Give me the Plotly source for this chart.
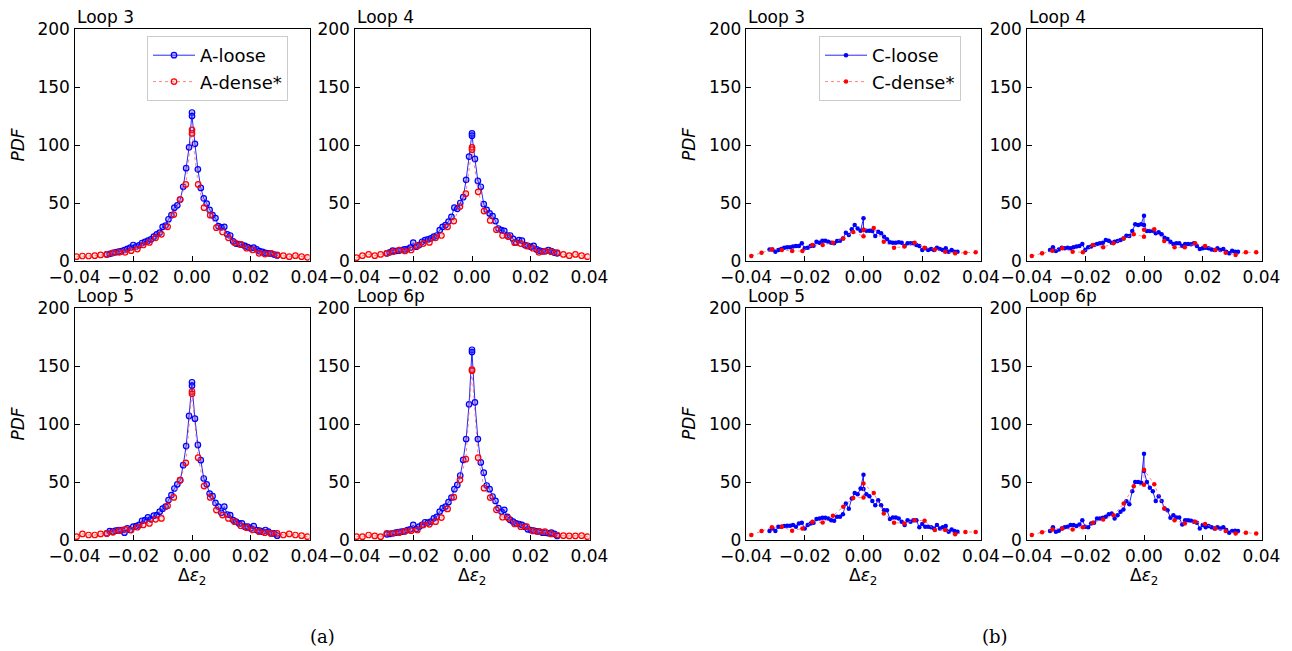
import plotly.graph_objects as go

# ---------------- data ----------------
XA_LOOSE = [-0.029, -0.028, -0.027, -0.026, -0.025, -0.024, -0.023, -0.022, -0.021, -0.020,
            -0.019, -0.018, -0.017, -0.016, -0.015, -0.014, -0.013, -0.012, -0.011, -0.010,
            -0.009, -0.008, -0.007, -0.006, -0.005, -0.004, -0.003, -0.002, -0.001, 0.0,
            0.0, 0.001, 0.002, 0.003, 0.004, 0.005, 0.006, 0.007, 0.008, 0.009,
            0.010, 0.011, 0.012, 0.013, 0.014, 0.015, 0.016, 0.017, 0.018, 0.019,
            0.020, 0.021, 0.022, 0.023, 0.024, 0.025, 0.026, 0.027, 0.028, 0.029]
XA_DENSE = [-0.0393, -0.0373, -0.0352, -0.0331, -0.0311, -0.0290, -0.0269, -0.0248, -0.0228, -0.0207,
            -0.0186, -0.0166, -0.0145, -0.0124, -0.0104, -0.0083, -0.0062, -0.0041, -0.0021, 0.0,
            0.0, 0.0021, 0.0041, 0.0062, 0.0083, 0.0104, 0.0124, 0.0145, 0.0166, 0.0186,
            0.0207, 0.0228, 0.0248, 0.0269, 0.0290, 0.0311, 0.0331, 0.0352, 0.0373, 0.0393]
XC_LOOSE = [-0.032, -0.031, -0.030, -0.029, -0.028, -0.027, -0.026, -0.025, -0.024, -0.023,
            -0.022, -0.021, -0.020, -0.019, -0.018, -0.017, -0.016, -0.015, -0.014, -0.013,
            -0.012, -0.011, -0.010, -0.009, -0.008, -0.007, -0.006, -0.005, -0.004, -0.003,
            -0.002, -0.001, 0.0, 0.0, 0.001, 0.002, 0.003, 0.004, 0.005, 0.006,
            0.007, 0.008, 0.009, 0.010, 0.011, 0.012, 0.013, 0.014, 0.015, 0.016,
            0.017, 0.018, 0.019, 0.020, 0.021, 0.022, 0.023, 0.024, 0.025, 0.026,
            0.027, 0.028, 0.029, 0.030, 0.031, 0.032]
XC_DENSE = [-0.0382, -0.0347, -0.0312, -0.0278, -0.0243, -0.0208, -0.0174, -0.0139, -0.0104, -0.0069,
            -0.0035, 0.0, 0.0, 0.0035, 0.0069, 0.0104, 0.0139, 0.0174, 0.0208, 0.0243,
            0.0278, 0.0312, 0.0347, 0.0382]

A3_LOOSE = [5.7, 6.2, 6.8, 7.4, 8, 8.6, 9.5, 10.5, 11.5, 13.8, 12.5, 13.5, 15.5, 16.5, 17.5, 18.6, 21, 23, 24.5,
            29.5, 30.5, 36, 39.5, 46, 48, 53, 64, 80, 98,
            128, 125,
            101, 79, 63, 54, 49.5, 44, 39.5, 37, 30, 29, 29.5, 23, 22, 17, 15, 14.6, 14, 13, 12, 11, 11.5,
            10, 8.5, 7.8, 7, 6.6, 6.3, 5.5, 4.8]
A3_DENSE = [3.7, 4.3, 4.3, 4.6, 5.2, 5.7, 7, 7.4, 7.4, 8.9, 10.3, 13.8, 16, 20, 23, 29.5, 40, 53, 66,
            113, 110,
            66, 46, 39.5, 28.7, 25, 20, 15.8, 14.3, 11, 9.5, 6.6, 6, 6.6, 5.2, 4.6, 3.7, 4.6, 3.7, 3.2]
A4_LOOSE = [6.6, 7.4, 8.9, 8.6, 8.9, 9.5, 10, 10.3, 11.5, 15.8, 12.3, 13.8, 16.6, 18, 18.6, 19.5, 21, 22,
            26.6, 29.5, 31, 34, 38, 46, 45, 50, 55, 70, 90,
            110, 108,
            88, 69, 64, 49, 44, 41, 38.7, 34.4, 28, 26.6, 26, 22, 22, 19, 16, 18, 17.5, 13.8, 13, 12.3, 13,
            10, 8.9, 8.3, 8.6, 9.5, 8.6, 7.2, 6.6]
A4_DENSE = [2.9, 4.6, 5.7, 4.6, 5.7, 6.6, 8, 9.5, 8.6, 9.5, 13, 15, 16, 20, 22, 29.5, 34.4, 47, 58,
            98, 96,
            59.6, 43, 35, 27, 22, 21, 15.8, 15, 13, 11, 7.4, 8.3, 8, 7.2, 5.7, 4.6, 5.7, 4.6, 3.7]
A5_LOOSE = [5.7, 7.7, 7.2, 8, 8.6, 8.6, 6.3, 10, 8.6, 11.5, 12, 13, 16.6, 17.2, 19.5, 17.8, 21, 21.5, 24.4,
            27, 28.7, 34.4, 38.7, 44.4, 48, 51.6, 64.5, 81, 107,
            136, 133,
            104.6, 82, 68.8, 53, 48, 40, 37.8, 32, 28.7, 23.5, 28.7, 22, 21.5, 17.2, 15.8, 14.3, 14.3, 11.5,
            11.5, 10, 12, 8.6, 8, 7.2, 8.6, 7.2, 5.7, 5.7, 3.7]
A5_DENSE = [2.9, 5.2, 4.3, 4.3, 5.2, 5.7, 6.6, 8, 9.2, 8.6, 11, 13, 14.3, 17.8, 18.6, 29.5, 36.7, 51.6, 66.5,
            128, 126,
            71, 46.5, 36.7, 25.8, 21.5, 18.6, 15.8, 12.3, 10.6, 8.6, 7.2, 6.3, 5.7, 5.7, 4.3, 5.2, 4.3, 3.7, 2.9]
A6_LOOSE = [4.9, 5.2, 5.8, 6.3, 6.9, 7.2, 7.5, 8.6, 9.2, 13, 9.5, 11.5, 13, 15.3, 15, 15.8, 18.7, 20, 24.5,
            27.4, 28.8, 32.6, 36.6, 43.8, 47.5, 55.6, 69, 87, 117,
            164, 162,
            118.7, 87, 66.9, 58, 47, 43.8, 37.5, 33.7, 27.4, 24.5, 26, 20, 17.3, 15.8, 14.4, 13.8, 13, 11.5,
            9.2, 8.6, 8, 7.5, 7.2, 6.3, 6.3, 5.8, 6.3, 5.2, 3.5]
A6_DENSE = [2.9, 2.9, 4.3, 3.5, 2.9, 5.8, 5.8, 6.3, 7.5, 8, 8.6, 13, 13.5, 15.8, 19.3, 26.8, 36.9, 51.9, 69.7,
            147, 146,
            71, 44.7, 36.6, 26, 19.6, 18.7, 13.8, 11.5, 11.5, 7.8, 7.2, 7.2, 5.2, 4.3, 3.7, 3.5, 3.5, 3.7, 2.9]

C3_LOOSE = [10, 10, 8, 9.5, 10.3, 11.5, 11.8, 11.8, 12.4, 13, 13, 15.2, 11, 11.5, 13, 13.2, 16.7, 15.8,
            17.5, 17.5, 16.7, 15.8, 15.2, 17.2, 17.5, 19.5, 24.4, 22.4, 27.3, 31, 28, 26,
            36.8, 27,
            26, 26, 25.9, 21.5, 25.3, 23.9, 21, 18.7, 16.1, 15.8, 15.8, 16.1, 15.8, 13, 15.2, 15.2,
            15.2, 13.8, 13, 9.5, 11, 9.5, 10.3, 9.5, 11.5, 10.3, 9.5, 11, 8, 9.5, 8, 8]
C3_DENSE = [4.3, 7.2, 10, 9.5, 8.6, 8.6, 13.8, 13.8, 15.8, 19.5, 25,
            21.3, 27,
            28.4, 16.7, 11.5, 12.4, 15.8, 11.5, 10, 8, 6.6, 7.2, 7.5]
C4_LOOSE = [9.5, 11.8, 8.6, 10, 11.5, 11, 11.5, 11, 11.8, 12.4, 13, 14.7, 9.5, 11.8, 12.4, 13.8, 14.7,
            15.2, 15.8, 18.1, 17.5, 15.8, 16.7, 17.2, 18.1, 19.5, 21.8, 21.5, 25.9, 31.6, 31, 31.6,
            39, 31,
            25.9, 25.9, 26.1, 23.9, 24.7, 23, 20.1, 19, 16.7, 14.7, 15.2, 15.2, 13, 14.7, 14.7, 14.4,
            15.2, 13, 10.3, 11, 11.5, 11, 10, 9.5, 11, 9.5, 10.3, 8, 6.6, 8.9, 8, 8]
C4_DENSE = [4.3, 6.6, 8.9, 11, 8, 7.5, 13.8, 11.8, 15.2, 19.5, 23,
            21, 27,
            27.3, 17.2, 11.8, 11.8, 15.2, 13, 9.5, 7.2, 5.2, 7.5, 7.5]
C5_LOOSE = [7.7, 10, 7.7, 11.4, 11.4, 12, 12.3, 12.3, 12.9, 11.4, 14.3, 14.9, 10, 12.9, 14.3, 14.9, 18,
            18.6, 19.1, 19.1, 18.6, 17.1, 16.6, 20, 20, 22.3, 31.4, 27, 35.7, 40.6, 39.4, 44.3,
            56.3, 44,
            39.4, 37.7, 33.7, 30, 34.3, 30, 25.7, 25.7, 18, 19.4, 19.4, 18.6, 15.7, 12.9, 17.1, 15.7,
            17.1, 17.1, 10.9, 13.7, 11.4, 11.4, 10.9, 10, 12.9, 10, 10.9, 12, 7.1, 9.1, 7.7, 7.1]
C5_DENSE = [4.3, 7.7, 10.9, 11.4, 8, 10, 15.7, 15.1, 20.9, 28.6, 36.3,
            36.6, 48.6,
            40.6, 22.9, 14.9, 14.3, 17.1, 16.6, 8.6, 8.6, 4.9, 6.9, 6.9]
C6_LOOSE = [7.7, 10.9, 7.1, 8, 10, 10.9, 11.4, 12.9, 12.9, 12, 13.4, 17.1, 11.4, 10.9, 14.3, 14.9, 18.6,
            18.6, 19.1, 20, 22.3, 22.9, 18.6, 21.4, 24.3, 26.3, 33.4, 30.9, 42, 50, 50, 49.4,
            74.3, 59.4,
            50, 45.1, 42, 33.7, 37.7, 33.7, 27.1, 25.7, 19.1, 21.4, 19.4, 19.4, 13.4, 17.1, 17.1, 16.6,
            15.7, 14.9, 10, 12.9, 10.9, 12, 10.9, 10, 10.9, 10, 10.9, 8.6, 6.3, 7.7, 8, 7.7]
C6_DENSE = [4.3, 6.6, 9.1, 10, 9.1, 10.9, 14.9, 17.7, 21.4, 31.4, 46.3,
            47.7, 60.6,
            48, 27.1, 17.1, 14.3, 15.7, 13.7, 10, 7.7, 5.7, 6.3, 5.7]

PANEL_TITLES = ["Loop 3", "Loop 4", "Loop 5", "Loop 6p"]
X_TICKS = [-0.04, -0.02, 0.0, 0.02, 0.04]
Y_TICKS = [0, 50, 100, 150, 200]

# ---------------- layout geometry (pixels) ----------------
W, H = 1292, 651
FONT = "DejaVu Sans"
FS = 17


def px_x(p):
    return p / W


def px_y(p):
    return (H - p) / H


col_px = [(74.5, 309.5), (354.5, 589.5), (746, 981), (1026.5, 1261.5)]
row_px = [(29, 261), (308, 540)]

panels = [
    ("A", 0, 0, PANEL_TITLES[0], XA_LOOSE, A3_LOOSE, XA_DENSE, A3_DENSE),
    ("A", 1, 0, PANEL_TITLES[1], XA_LOOSE, A4_LOOSE, XA_DENSE, A4_DENSE),
    ("A", 0, 1, PANEL_TITLES[2], XA_LOOSE, A5_LOOSE, XA_DENSE, A5_DENSE),
    ("A", 1, 1, PANEL_TITLES[3], XA_LOOSE, A6_LOOSE, XA_DENSE, A6_DENSE),
    ("C", 2, 0, PANEL_TITLES[0], XC_LOOSE, C3_LOOSE, XC_DENSE, C3_DENSE),
    ("C", 3, 0, PANEL_TITLES[1], XC_LOOSE, C4_LOOSE, XC_DENSE, C4_DENSE),
    ("C", 2, 1, PANEL_TITLES[2], XC_LOOSE, C5_LOOSE, XC_DENSE, C5_DENSE),
    ("C", 3, 1, PANEL_TITLES[3], XC_LOOSE, C6_LOOSE, XC_DENSE, C6_DENSE),
]

fig = go.Figure()
annotations = []
layout_axes = {}

for i, (grp, c, r, title, xl, yl, xd, yd) in enumerate(panels, start=1):
    xs = "x" if i == 1 else f"x{i}"
    ys = "y" if i == 1 else f"y{i}"
    first = (i == 1 or i == 5)
    legend_name = "legend" if grp == "A" else "legend2"
    if grp == "A":
        loose_marker = dict(symbol="circle", size=5.5, color="rgba(80,80,255,0.35)",
                            line=dict(color="#0000ff", width=1.2))
        dense_marker = dict(symbol="circle", size=5.5, color="rgba(255,120,120,0.2)",
                            line=dict(color="#ff0000", width=1.2))
    else:
        loose_marker = dict(symbol="circle", size=4.5, color="#0000ff", line=dict(width=0))
        dense_marker = dict(symbol="circle", size=4.5, color="#ff0000", line=dict(width=0))

    fig.add_trace(go.Scatter(
        x=xl, y=yl, mode="lines+markers", name=f"{grp}-loose",
        line=dict(color="rgba(0,0,255,0.85)", width=1),
        marker=loose_marker, xaxis=xs, yaxis=ys,
        showlegend=first, legend=legend_name))
    fig.add_trace(go.Scatter(
        x=xd, y=yd, mode="lines+markers", name=f"{grp}-dense*",
        line=dict(color="rgba(255,90,90,0.75)", width=1, dash="dot"),
        marker=dense_marker, xaxis=xs, yaxis=ys,
        showlegend=first, legend=legend_name))

    x0, x1 = col_px[c]
    y0, y1 = row_px[r]
    xkey = "xaxis" if i == 1 else f"xaxis{i}"
    ykey = "yaxis" if i == 1 else f"yaxis{i}"
    common = dict(showline=True, linecolor="black", linewidth=1.4, mirror=True,
                  ticks="inside", ticklen=5, tickwidth=1.1, tickcolor="black",
                  showgrid=False, zeroline=False, automargin=False,
                  tickfont=dict(family=FONT, size=FS, color="black"))
    layout_axes[xkey] = dict(common, domain=[px_x(x0), px_x(x1)], range=[-0.04, 0.04],
                             tickvals=X_TICKS, tickformat=".2f", anchor=ys)
    layout_axes[ykey] = dict(common, domain=[px_y(y1), px_y(y0)], range=[0, 200],
                             tickvals=Y_TICKS, anchor=xs)

    annotations.append(dict(text=title, xref="paper", yref="paper",
                            x=px_x(x0), y=px_y(y0), xanchor="left", yanchor="bottom",
                            yshift=0, showarrow=False,
                            font=dict(family=FONT, size=FS, color="black")))
    if c in (0, 2):
        annotations.append(dict(text="<i>PDF</i>", xref="paper", yref="paper",
                                x=px_x(x0 - 57), y=px_y((y0 + y1) / 2),
                                xanchor="center", yanchor="middle", textangle=-90,
                                showarrow=False,
                                font=dict(family=FONT, size=FS, color="black")))
    if r == 1:
        annotations.append(dict(text="Δ<i>ε</i><sub>2</sub>", xref="paper", yref="paper",
                                x=px_x((x0 + x1) / 2), y=px_y(576),
                                xanchor="center", yanchor="middle", showarrow=False,
                                font=dict(family=FONT, size=FS, color="black")))

annotations.append(dict(text="(a)", xref="paper", yref="paper", x=px_x(322.5), y=px_y(636),
                        xanchor="center", yanchor="middle", showarrow=False,
                        font=dict(family="DejaVu Serif", size=18, color="black")))
annotations.append(dict(text="(b)", xref="paper", yref="paper", x=px_x(995), y=px_y(636),
                        xanchor="center", yanchor="middle", showarrow=False,
                        font=dict(family="DejaVu Serif", size=18, color="black")))

legend_common = dict(bgcolor="white", bordercolor="#cccccc", borderwidth=1,
                     font=dict(family=FONT, size=18, color="black"),
                     xanchor="left", yanchor="top", tracegroupgap=0, itemwidth=42)

fig.update_layout(
    width=W, height=H,
    margin=dict(l=0, r=0, t=0, b=0, autoexpand=False),
    paper_bgcolor="white", plot_bgcolor="white",
    font=dict(family=FONT, size=FS, color="black"),
    annotations=annotations,
    legend=dict(legend_common, x=px_x(147), y=px_y(36)),
    legend2=dict(legend_common, x=px_x(819), y=px_y(36)),
    **layout_axes,
)

fig.write_html("out.html")
